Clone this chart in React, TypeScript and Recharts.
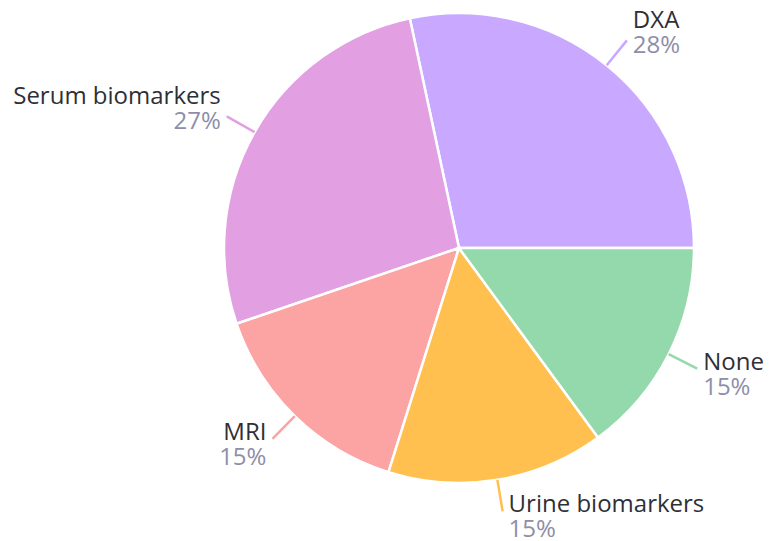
import { PieChart, Pie, Cell } from "recharts";

const categories = ["DXA", "Serum biomarkers", "MRI", "Urine biomarkers", "None"];
const counts = [19, 18, 10, 10, 10];
const colors = ["#c8a9ff", "#e2a0e3", "#fca3a3", "#ffc050", "#94d9ab"];

const data = categories.map((name, i) => ({ name, value: counts[i] }));

const RAD = Math.PI / 180;

const renderLabel = (props: any) => {
  const { cx, cy, midAngle, outerRadius, name, percent, index } = props;
  const cos = Math.cos(-midAngle * RAD);
  const sin = Math.sin(-midAngle * RAD);
  const sx = cx + outerRadius * cos;
  const sy = cy + outerRadius * sin;
  const ex = cx + (outerRadius + 32) * cos;
  const ey = cy + (outerRadius + 32) * sin;
  const right = cos >= 0;
  const tx = ex + (right ? 6 : -6);
  const nameY = ey < cy ? ey - 12 : ey + 1;
  return (
    <g>
      <line x1={sx} y1={sy} x2={ex} y2={ey} stroke={colors[index]} strokeWidth={2.5} />
      <text x={tx} y={nameY} textAnchor={right ? "start" : "end"} fill="#2f2f36" fontSize={24}>
        {name}
      </text>
      <text x={tx} y={nameY + 25} textAnchor={right ? "start" : "end"} fill="#8e8ea8" fontSize={24}>
        {`${Math.round(percent * 100)}%`}
      </text>
    </g>
  );
};

export default function App() {
  return (
    <div style={{ position: "absolute", left: 0, top: 0, fontFamily: "'Open Sans', sans-serif" }}>
      <PieChart width={770} height={541} margin={{ top: 0, right: 0, bottom: 0, left: 0 }}>
        <Pie
          data={data}
          dataKey="value"
          nameKey="name"
          cx={459}
          cy={248}
          outerRadius={235}
          startAngle={0}
          endAngle={360}
          stroke="#fff"
          strokeWidth={2.5}
          labelLine={false}
          label={renderLabel}
          isAnimationActive={false}
        >
          {data.map((entry, i) => (
            <Cell key={`cell-${i}`} fill={colors[i]} />
          ))}
        </Pie>
      </PieChart>
    </div>
  );
}
